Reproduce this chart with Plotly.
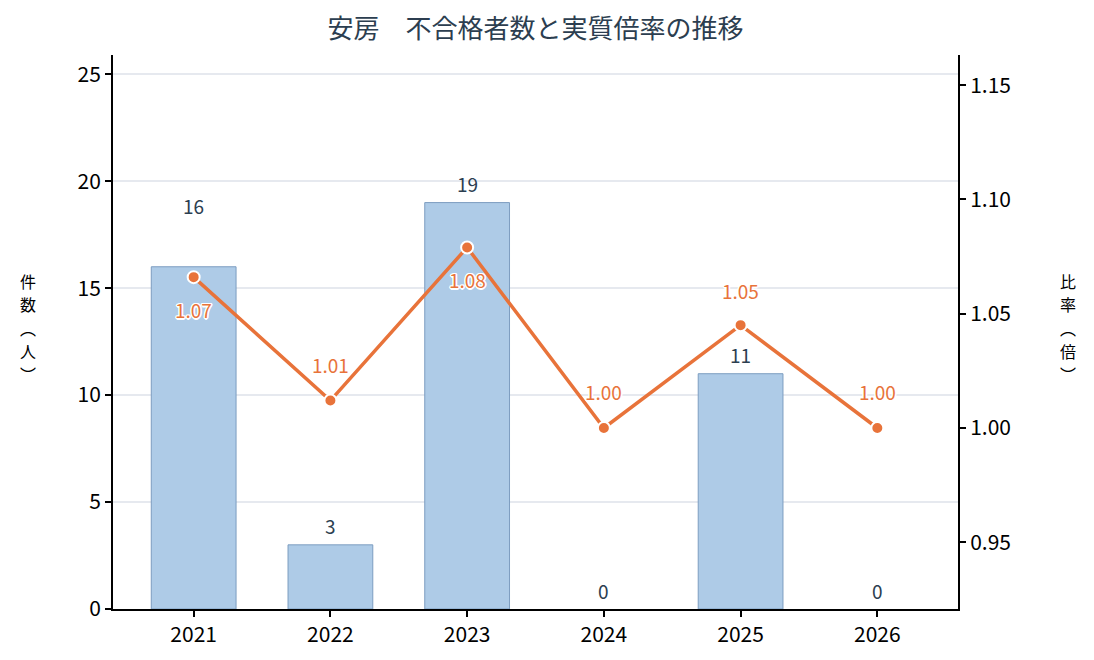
import plotly.graph_objects as go

years = ["2021", "2022", "2023", "2024", "2025", "2026"]
failures = [16, 3, 19, 0, 11, 0]
ratios = [1.066, 1.012, 1.079, 1.000, 1.045, 1.000]
ratio_labels = ["1.07", "1.01", "1.08", "1.00", "1.05", "1.00"]
title_text = "安房　不合格者数と実質倍率の推移"
left_title_chars = ["件", "数", "︵", "人", "︶"]
right_title_chars = ["比", "率", "︵", "倍", "︶"]

FONT = "Noto Sans CJK JP"
ORANGE = "#e8733a"
DARK = "#2c3e50"

# label placement styles (pixels)
bar_label_shift = [61, 19, 19, 19, 19, 19]
ratio_label_shift = [-32, 36, -32, 36, 35, 36]
title_char_py = [281, 304, 328, 351, 374]

# page body has an 8px margin; place the plot area at page px x 113..958, y 55..609
OFF = 8
W, H = 1094, 660
ml, mt = 113 - OFF, 55 - OFF
pw, ph = 958 - 113, 609 - 55
mr, mb = W - ml - pw, H - mt - ph

fig = go.Figure()
fig.add_trace(go.Bar(
    x=years, y=failures, width=0.62,
    marker=dict(color="#aecbe7",
                line=dict(color="#7d9dc0", width=[1 if v > 0 else 0 for v in failures])),
    yaxis="y", hoverinfo="skip", showlegend=False,
))
fig.add_trace(go.Scatter(
    x=years, y=ratios, yaxis="y2", mode="lines+markers",
    line=dict(color=ORANGE, width=3.5),
    marker=dict(color=ORANGE, size=12, line=dict(color="white", width=2)),
    showlegend=False, hoverinfo="skip",
))

shadow = ("1px 1px 0 #fff, -1px -1px 0 #fff, 1px -1px 0 #fff, -1px 1px 0 #fff, "
          "0 1.5px 0 #fff, 0 -1.5px 0 #fff, 1.5px 0 0 #fff, -1.5px 0 0 #fff")
annotations = []
for i, (yv, s) in enumerate(zip(failures, bar_label_shift)):
    annotations.append(dict(x=i, y=yv, xref="x", yref="y", text=str(yv),
                            showarrow=False, yshift=s,
                            font=dict(family=FONT, size=19, color=DARK)))
for i, (yv, t, s) in enumerate(zip(ratios, ratio_labels, ratio_label_shift)):
    annotations.append(dict(x=i, y=yv, xref="x", yref="y2", text=t,
                            showarrow=False, yshift=s,
                            font=dict(family=FONT, size=19, color=ORANGE, shadow=shadow)))


def px_to_paper(px, py):
    return (px - 113) / pw, (609 - py) / ph


for cx, chars in ((28, left_title_chars), (1068, right_title_chars)):
    for ch, py in zip(chars, title_char_py):
        ax_, ay_ = px_to_paper(cx, py)
        annotations.append(dict(x=ax_, y=ay_, xref="paper", yref="paper", text=ch,
                                xanchor="center", yanchor="middle", showarrow=False,
                                font=dict(family=FONT, size=16, color="black")))

fig.update_layout(
    width=W, height=H,
    margin=dict(l=ml, r=mr, t=mt, b=mb),
    plot_bgcolor="white", paper_bgcolor="white",
    font=dict(family=FONT, size=21, color="black"),
    title=dict(text=title_text, x=0.5, xref="paper", xanchor="center",
               y=(H - (29 - OFF)) / H, yref="container", yanchor="middle",
               font=dict(family=FONT, size=26, color=DARK)),
    xaxis=dict(type="category", range=[-0.59, 5.59], showline=True, linecolor="black", linewidth=2,
               ticks="outside", ticklen=6, tickcolor="black", tickwidth=2, showgrid=False,
               tickfont=dict(size=21)),
    yaxis=dict(range=[0, 25.9], dtick=5, showline=True, linecolor="black", linewidth=2,
               ticks="outside", ticklen=6, tickcolor="black", tickwidth=2,
               gridcolor="#e6e9ef", gridwidth=1.5, zeroline=False, tickfont=dict(size=21)),
    yaxis2=dict(range=[0.9208, 1.1632], dtick=0.05, tickformat=".2f", overlaying="y", side="right",
                showline=True, linecolor="black", linewidth=2, ticks="outside", ticklen=6,
                tickcolor="black", tickwidth=2, showgrid=False, zeroline=False, tickfont=dict(size=21)),
    annotations=annotations,
)
fig.write_html("out.html")
